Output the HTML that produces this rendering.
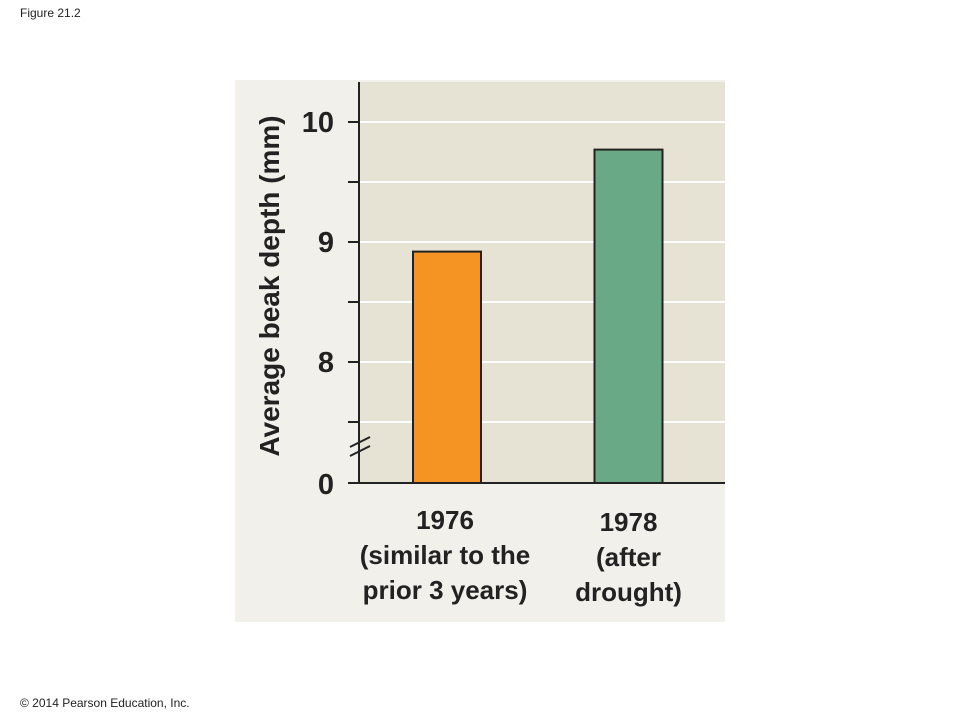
<!DOCTYPE html>
<html><head><meta charset="utf-8"><style>
body{margin:0;width:960px;height:720px;background:#fff;font-family:"Liberation Sans",sans-serif;position:relative;overflow:hidden}
svg text{font-family:"Liberation Sans",Arial,sans-serif}
</style></head><body>
<div style="position:absolute;left:20px;top:6px;font-size:12px;color:#222">Figure 21.2</div>
<div style="position:absolute;left:20px;top:696px;font-size:12px;color:#222">© 2014 Pearson Education, Inc.</div>
<svg width="960" height="720" style="position:absolute;left:0;top:0;font-family:'Liberation Sans',Arial,sans-serif" id="chart">
<rect x="235" y="80" width="490" height="542" fill="#f2f0ea"/>
<rect x="359" y="82" width="366" height="401" fill="#e6e2d4"/>
<g id="grid"></g><g id="bars"></g><g id="ticks"></g>
<line x1="359" y1="82" x2="359" y2="484" stroke="#222" stroke-width="2"/>
<line x1="348" y1="483" x2="725" y2="483" stroke="#222" stroke-width="2"/>
<g stroke="#222" stroke-width="2">
<line x1="350" y1="447" x2="370" y2="437"/><line x1="350" y1="456" x2="370" y2="446"/></g>
<text transform="translate(279,286) rotate(-90)" text-anchor="middle" font-size="28" font-weight="bold" fill="#222">Average beak depth (mm)</text>
<text x="334" y="494" text-anchor="end" font-size="29" font-weight="bold" fill="#222">0</text>
<g id="xlabels" font-size="26" font-weight="bold" fill="#222" text-anchor="middle"></g>
</svg>
<script>
const categories=["1976","1978"];
const subLabels=[["(similar to the","prior 3 years)"],["(after","drought)"]];
const values=[8.92,9.77];
const colors=["#f59423","#6aa985"];
const tickValues=[7.5,8,8.5,9,9.5,10];
const tickLabels=["","8","","9","","10"];
const NS="http://www.w3.org/2000/svg";
const y=v=>362-(v-8)*120, baseY=483;
const xc=i=>447+i*181.5, bw=68;
const g=document.getElementById('grid'),t=document.getElementById('ticks'),b=document.getElementById('bars'),xl=document.getElementById('xlabels');
tickValues.forEach((v,i)=>{
 const l=document.createElementNS(NS,'line');
 
 
 l.setAttribute('x1',360);l.setAttribute('x2',725);l.setAttribute('y1',y(v));l.setAttribute('y2',y(v));
 l.setAttribute('stroke','#fff');l.setAttribute('stroke-width','2');g.appendChild(l);
 const k=document.createElementNS(NS,'line');
 
 
 k.setAttribute('x1',348);k.setAttribute('x2',359);k.setAttribute('y1',y(v));k.setAttribute('y2',y(v));
 k.setAttribute('stroke','#222');k.setAttribute('stroke-width','2');t.appendChild(k);
 if(tickLabels[i]){const tx=document.createElementNS(NS,'text');
 
 
 tx.setAttribute('x',334);tx.setAttribute('y',y(v)+10);tx.setAttribute('text-anchor','end');
 tx.setAttribute('font-size','29');tx.setAttribute('font-weight','bold');tx.setAttribute('fill','#222');
 tx.textContent=tickLabels[i];t.appendChild(tx);}
});
values.forEach((v,i)=>{
 const r=document.createElementNS(NS,'rect');
 
 
 r.setAttribute('x',xc(i)-bw/2);r.setAttribute('y',y(v));r.setAttribute('width',bw);r.setAttribute('height',baseY-y(v));
 r.setAttribute('fill',colors[i]);r.setAttribute('stroke','#222');r.setAttribute('stroke-width','2');b.appendChild(r);
 const lines=[categories[i]].concat(subLabels[i]);
 lines.forEach((s,j)=>{const tx=document.createElementNS(NS,'text');
 
 
 tx.setAttribute('x',xc(i)+(i?0:-2));tx.setAttribute('y',(i?531:529)+j*35);tx.textContent=s;xl.appendChild(tx);});
});
</script>
</body></html>
